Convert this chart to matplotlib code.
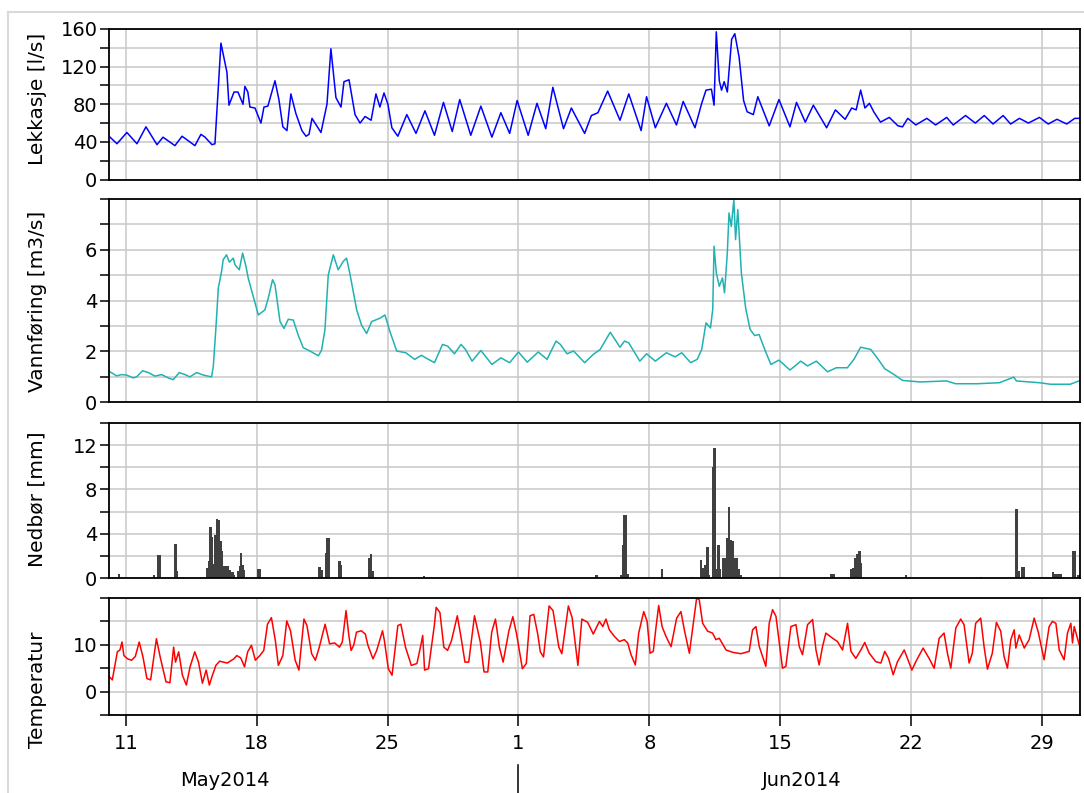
import numpy as np
import pandas as pd
import matplotlib
matplotlib.use('Agg')
import matplotlib.pyplot as plt
import matplotlib.dates as mdates
import matplotlib.transforms as mtransforms
from matplotlib.ticker import MultipleLocator, FixedLocator, FuncFormatter
from matplotlib.lines import Line2D

plt.rcParams['font.family'] = 'DejaVu Sans'
plt.rcParams['font.size'] = 14

START = pd.Timestamp('2014-05-10')  # day 0 of all series below

## Lekkasje [l/s] (days after START, value)
leak_day = [0.16, 0.53, 1.06, 1.60, 2.08, 2.67, 2.99, 3.63, 4.01, 4.70, 5.02, 5.24, 5.61, 5.77,
            6.09, 6.41, 6.52, 6.79, 7.00, 7.27, 7.37, 7.53, 7.64, 7.91, 8.23, 8.39, 8.60, 8.98,
            9.19, 9.40, 9.62, 9.83, 10.10, 10.42, 10.64, 10.80, 10.96, 11.28, 11.44, 11.76, 11.97,
            12.24, 12.51, 12.67, 12.94, 13.26, 13.53, 13.80, 14.12, 14.38, 14.59, 14.81, 15.02,
            15.23, 15.55, 16.03, 16.52, 17.00, 17.51, 17.99, 18.46, 18.86, 19.45, 19.99, 20.58,
            21.06, 21.53, 21.93, 22.52, 22.99, 23.46, 23.84, 24.41, 24.83, 25.54, 25.90, 26.25,
            26.77, 27.43, 27.90, 28.56, 28.85, 29.32, 29.91, 30.45, 30.81, 31.44, 31.80, 32.03,
            32.32, 32.46, 32.58, 32.74, 32.86, 33.00, 33.17, 33.40, 33.57, 33.80, 34.04, 34.23,
            34.56, 34.80, 35.41, 35.93, 36.52, 36.87, 37.34, 37.77, 38.48, 38.95, 39.47, 39.82,
            40.06, 40.30, 40.53, 40.77, 41.00, 41.36, 41.83, 42.30, 42.54, 42.82, 43.25, 43.84,
            44.31, 44.90, 45.25, 45.91, 46.43, 46.91, 47.38, 47.92, 48.32, 48.79, 49.27, 49.86,
            50.33, 50.80, 51.32, 51.75, 52.00]
leak_val = [45, 38, 50, 38, 56, 37, 45, 36, 46, 36, 48, 45, 37, 38,
            145, 114, 79, 93, 93, 80, 99, 93, 77, 76, 60, 77, 78, 105,
            85, 56, 52, 91, 70, 52, 46, 48, 65, 55, 50, 80, 139,
            87, 77, 104, 106, 69, 60, 67, 63, 91, 77, 92, 80,
            55, 46, 69, 49, 73, 47, 82, 51, 85, 47, 78, 45,
            71, 49, 84, 47, 81, 54, 98, 54, 76, 49, 68, 71,
            94, 63, 91, 52, 88, 55, 81, 58, 83, 55, 81, 95,
            96, 79, 157, 105, 95, 104, 93, 149, 155, 130, 84, 72,
            69, 88, 57, 85, 56, 82, 61, 79, 55, 74, 64, 76,
            74, 95, 76, 81, 72, 61, 66, 57, 56, 65, 58, 65,
            58, 66, 58, 68, 60, 68, 59, 68, 59, 65, 60, 66,
            59, 64, 59, 65, 65]

## Vannføring [m3/s]
flow_day = [0.16, 0.51, 0.78, 1.05, 1.40, 1.58, 1.90, 2.21, 2.56, 2.92, 3.27, 3.54, 3.86, 4.17,
            4.43, 4.79, 5.15, 5.59, 5.68, 5.82, 5.95, 6.13, 6.21, 6.39, 6.54, 6.75, 6.84, 7.07,
            7.25, 7.43, 7.55, 7.82, 8.09, 8.44, 8.62, 8.85, 8.98, 9.25, 9.46, 9.69, 9.96, 10.22,
            10.49, 10.85, 11.30, 11.47, 11.65, 11.83, 12.10, 12.36, 12.63, 12.81, 12.99, 13.35,
            13.61, 13.88, 14.15, 14.59, 14.86, 15.13, 15.49, 15.98, 16.45, 16.81, 17.04, 17.51,
            17.94, 18.22, 18.58, 18.93, 19.17, 19.52, 19.99, 20.58, 21.06, 21.53, 22.00, 22.47,
            23.06, 23.53, 24.01, 24.24, 24.60, 24.95, 25.54, 26.01, 26.37, 26.91, 27.43, 27.67,
            27.90, 28.49, 28.85, 29.32, 29.91, 30.38, 30.73, 31.21, 31.56, 31.80, 32.03, 32.27,
            32.39, 32.46, 32.58, 32.74, 32.91, 33.02, 33.17, 33.26, 33.38, 33.52, 33.61, 33.73,
            33.92, 34.16, 34.39, 34.63, 34.87, 35.17, 35.50, 35.93, 36.52, 37.10, 37.46, 37.93,
            38.53, 39.00, 39.59, 39.94, 40.30, 40.84, 41.24, 41.59, 42.07, 42.54, 43.48, 44.90,
            45.37, 46.55, 47.72, 48.49, 48.63, 49.86, 50.45, 51.51, 51.98]
flow_val = [1.19, 1.03, 1.08, 1.06, 0.95, 0.99, 1.23, 1.16, 1.02, 1.08, 0.95, 0.88, 1.16, 1.08,
            0.99, 1.16, 1.06, 0.99, 1.39, 2.90, 4.49, 5.17, 5.61, 5.80, 5.51, 5.67, 5.41, 5.21,
            5.87, 5.34, 4.88, 4.16, 3.43, 3.63, 4.09, 4.82, 4.62, 3.17, 2.90, 3.26, 3.23, 2.64,
            2.14, 2.01, 1.82, 2.04, 2.84, 5.01, 5.80, 5.21, 5.54, 5.67, 5.04, 3.63,
            3.03, 2.70, 3.17, 3.30, 3.43, 2.77, 2.01, 1.94, 1.68, 1.84, 1.74, 1.55,
            2.27, 2.20, 1.90, 2.27, 2.07, 1.61, 2.03, 1.48, 1.74, 1.55, 1.97, 1.57,
            1.97, 1.68, 2.40, 2.27, 1.90, 2.01, 1.55, 1.88, 2.07, 2.75, 2.16, 2.40,
            2.33, 1.61, 1.90, 1.61, 1.94, 1.78, 1.94, 1.55, 1.68, 2.07, 3.12, 2.92,
            3.65, 6.14, 5.09, 4.56, 4.89, 4.30, 5.88, 7.45, 6.92, 7.97, 6.40, 7.58,
            5.09, 3.65, 2.86, 2.62, 2.66, 2.07, 1.48, 1.65, 1.26, 1.61, 1.42, 1.61,
            1.19, 1.35, 1.35, 1.68, 2.16, 2.07, 1.68, 1.31, 1.09, 0.85, 0.79, 0.83,
            0.72, 0.72, 0.76, 0.98, 0.83, 0.76, 0.70, 0.70, 0.83]

## Nedbør [mm] (only hours with rain)
rain_day = [0.65, 2.52, 2.75, 2.82, 3.67, 3.72, 5.35, 5.44, 5.53, 5.62, 5.71, 5.80, 5.89, 5.98,
            6.07, 6.16, 6.25, 6.34, 6.43, 6.54, 6.62, 6.70, 6.80, 7.01, 7.10, 7.17, 7.24, 7.33,
            8.09, 8.18, 11.35, 11.48, 11.71, 11.79, 11.88, 12.42, 12.51, 14.02, 14.11, 14.20,
            16.95, 26.18, 27.52, 27.61, 27.67, 27.74, 27.83, 29.67, 31.28, 31.76, 31.86, 32.00,
            32.10, 32.20, 32.41, 32.48, 32.61, 32.69, 32.79, 32.93, 33.06, 33.18, 33.27, 33.36,
            33.46, 33.56, 33.66, 33.77, 33.87, 38.74, 38.88, 39.78, 39.92, 40.03, 40.13, 40.24,
            40.31, 42.73, 46.75, 48.63, 48.74, 48.93, 49.04, 50.59, 50.72, 50.86, 50.98, 51.67,
            51.76, 51.94]
rain_val = [0.33, 0.25, 2.1, 2.1, 3.1, 0.6, 0.9, 1.5, 4.6, 3.7, 1.3, 3.9, 5.3, 5.2,
            3.3, 2.4, 1.1, 1.1, 1.1, 0.7, 0.5, 0.5, 0.3, 0.6, 1.1, 2.3, 1.2, 0.7,
            0.8, 0.8, 1.0, 0.7, 2.3, 3.6, 3.6, 1.5, 1.2, 1.8, 2.2, 0.6,
            0.2, 0.3, 0.3, 3.0, 5.7, 5.7, 0.4, 0.8, 0.1, 1.6, 0.9, 1.2,
            2.8, 0.3, 10.0, 11.7, 0.8, 3.0, 0.8, 1.8, 1.8, 3.6, 6.4, 3.4,
            3.3, 1.8, 1.8, 0.8, 0.3, 0.4, 0.4, 0.8, 0.9, 1.8, 2.2, 2.4,
            1.4, 0.3, 0.1, 6.2, 0.6, 1.0, 1.0, 0.5, 0.4, 0.4, 0.4, 2.4,
            2.4, 0.3]

## Temperatur
temp_day = [0.12, 0.28, 0.39, 0.55, 0.69, 0.80, 0.90, 1.10, 1.31, 1.51, 1.72, 1.92, 2.13, 2.33,
            2.64, 2.84, 3.15, 3.36, 3.56, 3.66, 3.83, 4.03, 4.24, 4.44, 4.69, 4.89, 5.10, 5.30,
            5.47, 5.61, 5.82, 6.02, 6.43, 6.78, 6.94, 7.15, 7.35, 7.52, 7.72, 7.93, 8.17, 8.38,
            8.58, 8.79, 9.00, 9.16, 9.40, 9.61, 9.81, 10.06, 10.26, 10.53, 10.69, 10.94, 11.14,
            11.35, 11.66, 11.90, 12.17, 12.43, 12.58, 12.78, 12.93, 13.05, 13.19, 13.34, 13.60,
            13.81, 13.95, 14.22, 14.42, 14.73, 14.83, 15.04, 15.24, 15.55, 15.71, 15.96, 16.27,
            16.57, 16.78, 16.88, 16.98, 17.19, 17.50, 17.60, 17.80, 18.01, 18.21, 18.42, 18.73,
            18.93, 19.14, 19.34, 19.65, 19.96, 20.16, 20.36, 20.57, 20.77, 20.98, 21.18, 21.49,
            21.70, 21.90, 22.21, 22.42, 22.62, 22.82, 23.03, 23.17, 23.34, 23.64, 23.85, 24.16,
            24.32, 24.67, 24.87, 25.18, 25.39, 25.70, 26.00, 26.33, 26.51, 26.68, 26.86, 27.13,
            27.40, 27.66, 27.84, 28.02, 28.25, 28.43, 28.70, 28.88, 29.04, 29.21, 29.36, 29.50,
            29.68, 29.89, 30.16, 30.46, 30.69, 30.87, 31.14, 31.35, 31.53, 31.67, 31.85, 32.12,
            32.38, 32.56, 32.74, 33.10, 33.45, 33.90, 34.34, 34.52, 34.70, 34.88, 35.23, 35.41,
            35.59, 35.77, 35.95, 36.12, 36.30, 36.57, 36.84, 37.02, 37.19, 37.46, 37.73, 37.91,
            38.08, 38.26, 38.44, 38.80, 39.06, 39.33, 39.60, 39.78, 40.04, 40.31, 40.52, 40.76,
            41.11, 41.38, 41.59, 41.79, 42.04, 42.27, 42.63, 42.80, 43.04, 43.25, 43.64, 43.96,
            44.23, 44.50, 44.76, 44.94, 45.12, 45.39, 45.65, 45.83, 46.10, 46.27, 46.45, 46.72,
            46.90, 47.08, 47.34, 47.56, 47.79, 47.97, 48.15, 48.33, 48.51, 48.60, 48.78, 49.05,
            49.31, 49.58, 49.81, 50.11, 50.38, 50.56, 50.74, 50.92, 51.18, 51.36, 51.54, 51.63,
            51.72, 51.99]
temp_val = [3.2, 2.5, 4.9, 8.5, 8.9, 10.6, 7.7, 7.0, 6.7, 7.5, 10.6, 7.4, 2.8, 2.5,
            11.3, 7.4, 2.1, 1.9, 9.5, 6.3, 8.5, 3.5, 1.4, 5.3, 8.5, 6.3, 1.8, 4.6,
            1.4, 3.2, 5.6, 6.5, 6.1, 7.0, 7.7, 7.2, 5.3, 8.5, 9.9, 6.7, 7.7, 8.8,
            14.4, 15.8, 10.9, 5.6, 7.7, 15.1, 13.0, 6.7, 4.6, 15.5, 14.1, 8.1, 6.7,
            9.5, 14.4, 10.2, 10.4, 9.5, 10.6, 17.3, 12.0, 8.8, 9.9, 12.7, 13.0,
            12.3, 9.9, 7.0, 8.8, 13.0, 10.9, 4.9, 3.5, 14.1, 14.4, 9.5, 5.6,
            6.0, 9.9, 12.0, 4.6, 4.9, 14.1, 18.0, 16.9, 9.5, 8.8, 10.9, 16.2,
            11.6, 6.3, 6.3, 16.2, 10.6, 4.2, 4.2, 12.7, 15.5, 9.5, 6.3, 13.0,
            16.0, 12.3, 4.9, 6.0, 16.2, 16.5, 12.3, 8.5, 7.4, 18.3, 17.3, 9.5,
            8.1, 18.3, 15.8, 5.6, 15.5, 14.8, 12.3, 15.0, 13.9, 15.5, 13.2, 11.8,
            10.7, 11.1, 10.4, 7.9, 5.7, 12.5, 17.1, 15.0, 8.2, 8.6, 13.9, 18.4,
            13.9, 11.8, 9.6, 15.7, 17.1, 13.2, 8.2, 14.6, 20.0, 19.6, 14.6, 12.9,
            12.5, 11.1, 11.4, 8.9, 8.4, 8.1, 8.6, 13.2, 13.9, 9.6, 5.4, 14.6,
            17.5, 16.1, 10.4, 5.0, 5.4, 13.9, 14.3, 9.6, 7.9, 14.3, 15.4, 8.9,
            5.7, 9.6, 12.5, 11.4, 10.7, 8.9, 14.6, 8.6, 7.1, 8.9, 10.5, 8.2,
            6.4, 6.1, 8.6, 7.1, 3.6, 6.4, 8.9, 7.1, 4.6, 6.4, 9.3, 7.1,
            5.0, 11.4, 12.5, 8.2, 5.0, 13.6, 15.5, 14.3, 6.1, 8.2, 14.6, 15.7,
            9.6, 4.8, 8.2, 14.8, 12.9, 7.5, 5.0, 11.1, 13.2, 9.3, 12.1, 9.3,
            11.1, 15.7, 12.5, 6.8, 13.9, 15.0, 14.6, 8.9, 6.8, 12.5, 14.6, 10.4,
            13.9, 10.0]

ylabels = ['Lekkasje [l/s]', 'Vannføring [m3/s]', 'Nedbør [mm]', 'Temperatur']
months = ['May2014', 'Jun2014']


def to_dates(days):
    return START + pd.to_timedelta(np.asarray(days, dtype=float), unit='D')


W, H = 1084, 793
fig = plt.figure(figsize=(W / 100, H / 100), dpi=100)

# panel boxes in pixels: (top, bottom)
boxes = [(29, 179.5), (199, 402), (423, 578), (598, 715)]
left, right = 109.3, 1080
axs = []
for top, bot in boxes:
    axs.append(fig.add_axes([left / W, 1 - bot / H, (right - left) / W, (bot - top) / H]))
ax1, ax2, ax3, ax4 = axs

gridc = '#c8c8c8'
xmin, xmax = to_dates([0.12, 52.03])

ax1.plot(to_dates(leak_day), leak_val, color='#0000ff', lw=1.1)
ax2.plot(to_dates(flow_day), flow_val, color='#20b2b2', lw=1.1)
ax3.bar(to_dates(rain_day), rain_val, width=0.13, color='#404040', lw=0)
ax4.plot(to_dates(temp_day), temp_val, color='#ff0000', lw=1.1)

ax1.set_ylim(0, 160)
ax1.yaxis.set_major_locator(MultipleLocator(40))
ax1.yaxis.set_minor_locator(MultipleLocator(20))
ax2.set_ylim(0, 8)
ax2.yaxis.set_major_locator(FixedLocator([0, 2, 4, 6]))
ax2.yaxis.set_minor_locator(FixedLocator([1, 3, 5, 7, 8]))
ax3.set_ylim(0, 14)
ax3.yaxis.set_major_locator(FixedLocator([0, 4, 8, 12]))
ax3.yaxis.set_minor_locator(FixedLocator([2, 6, 10, 14]))
ax4.set_ylim(-5, 20)
ax4.yaxis.set_major_locator(FixedLocator([0, 10]))
ax4.yaxis.set_minor_locator(FixedLocator([-5, 5, 15, 20]))

label_y = [0.538, 0.495, 0.506, 0.22]
for ax, lab, ly in zip(axs, ylabels, label_y):
    ax.set_xlim(xmin, xmax)
    ax.xaxis.set_major_locator(mdates.WeekdayLocator(byweekday=mdates.SU))
    ax.grid(True, which='both', axis='y', color=gridc, lw=1.1)
    ax.grid(True, which='major', axis='x', color=gridc, lw=1.1)
    ax.set_axisbelow(True)
    for s in ax.spines.values():
        s.set_linewidth(1.3)
        s.set_color('black')
    ax.tick_params(axis='y', which='both', direction='out', length=6.5, width=1.1, pad=2,
                   labelsize=14, colors='black')
    ax.set_ylabel(lab, fontsize=14.5, va='top')
    ax.yaxis.set_label_coords(-0.084, ly)

for ax in axs[:3]:
    ax.tick_params(axis='x', which='both', length=0, labelbottom=False)

ax4.tick_params(axis='x', direction='out', length=8, width=1.1, pad=6, labelsize=14)
ax4.xaxis.set_major_formatter(FuncFormatter(lambda v, p: str(mdates.num2date(v).day)))

# month names below the day numbers, split at 1 June
trans = mtransforms.blended_transform_factory(ax4.transData, ax4.transAxes)
may_pos, jun_pos, split = to_dates([6.3, 37.16, 22])
ax4.text(may_pos, -0.564, months[0], transform=trans, ha='center', va='center', fontsize=14)
ax4.text(jun_pos, -0.564, months[1], transform=trans, ha='center', va='center', fontsize=14)
ax4.add_line(Line2D([mdates.date2num(split)] * 2, [-0.427, -0.70], transform=trans,
                    color='black', lw=1.1, clip_on=False))

# light frame round the chart area
fx, fy = 7.5 / W, 1 - 12 / H
fig.add_artist(Line2D([fx, fx], [0, fy], color='#d9d9d9', lw=1.5))
fig.add_artist(Line2D([fx, 1], [fy, fy], color='#d9d9d9', lw=1.5))

fig.savefig('out.png', dpi=100)
